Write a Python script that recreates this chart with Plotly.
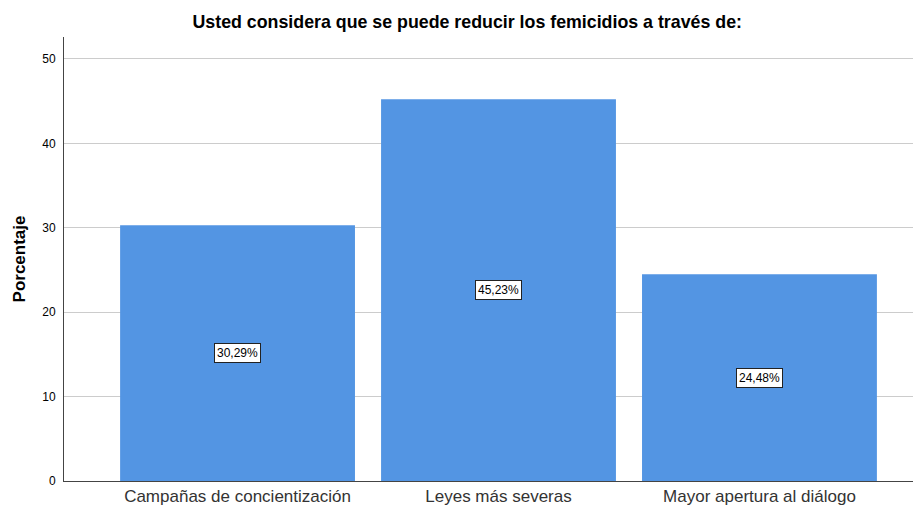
import plotly.graph_objects as go

categorias = ["Campañas de concientización", "Leyes más severas", "Mayor apertura al diálogo"]
porcentajes = [30.29, 45.23, 24.48]
etiquetas = ["30,29%", "45,23%", "24,48%"]
y_ticks = [0, 10, 20, 30, 40, 50]

x_idx = list(range(len(categorias)))

# the page body has an 8px margin, so the figure is a bit smaller than the window
fig = go.Figure()
fig.add_trace(
    go.Bar(
        x=x_idx,
        y=porcentajes,
        width=0.9,
        marker=dict(color="#5395E3", line=dict(width=0)),
        hoverinfo="none",
    )
)

for xi, val, txt in zip(x_idx, porcentajes, etiquetas):
    fig.add_annotation(
        x=xi, y=val / 2, text=txt, showarrow=False,
        font=dict(family="Arial", size=12, color="black"),
        bgcolor="white", bordercolor="#222222", borderwidth=1, borderpad=2,
    )

fig.update_layout(
    width=913, height=499,
    margin=dict(l=56, r=0, t=29, b=26),
    paper_bgcolor="white", plot_bgcolor="white",
    showlegend=False,
    title=dict(
        text="<b>Usted considera que se puede reducir los femicidios a través de:</b>",
        x=0.503, xanchor="center", y=0.972, yanchor="middle",
        font=dict(family="Arial", size=17.8, color="black"),
    ),
    bargap=0.1,
    font=dict(family="Arial"),
)
fig.update_xaxes(
    range=[-0.665, 2.619],
    tickvals=x_idx, ticktext=categorias,
    tickfont=dict(family="Arial", size=17, color="#333333"),
    showgrid=False, showline=True, linecolor="#444444", linewidth=1,
    ticks="",
    automargin=False,
)
fig.update_yaxes(
    range=[0, 52.6],
    tickvals=y_ticks,
    tickfont=dict(family="Arial", size=12, color="black"),
    showgrid=True, gridcolor="#cccccc", gridwidth=1,
    showline=True, linecolor="#444444", linewidth=1,
    zeroline=False, ticks="outside", ticklen=5, tickcolor="white",
    automargin=False,
    title=dict(text="<b>Porcentaje</b>", font=dict(family="Arial", size=17, color="black"), standoff=12),
)

fig.write_html("out.html")
